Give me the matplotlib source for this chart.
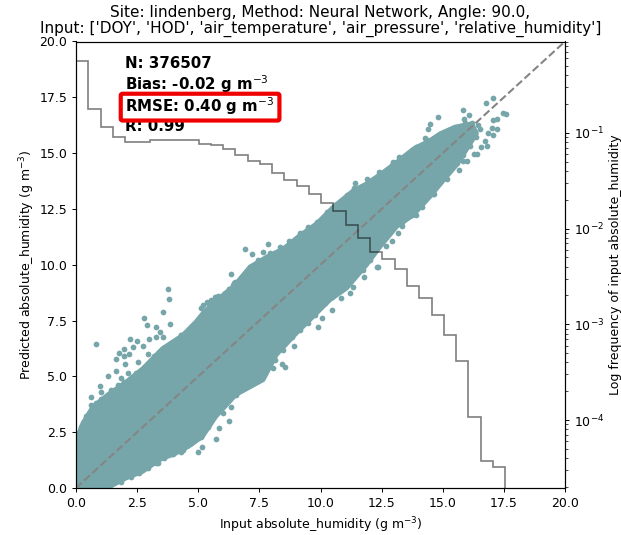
#!/usr/bin/env python3
"""Predicted vs input absolute humidity, with input frequency histogram."""

import numpy as np
import matplotlib
matplotlib.use('Agg')
import matplotlib.pyplot as plt
from matplotlib.patches import FancyBboxPatch

# outline of the solid point cloud
upper_x = [0.0, 0.0, 0.27, 0.68, 1.36, 2.05, 2.73, 3.54, 4.36, 4.9, 5.2, 5.75, 6.43, 7.11, 7.8, 8.48,
           9.16, 9.84, 10.52, 11.35, 11.89, 12.57, 13.12, 13.8, 14.48, 14.89, 15.5, 16.19, 16.39]
upper_y = [0.0, 2.15, 2.9, 3.64, 4.24, 4.76, 5.36, 6.26, 6.85, 7.45, 7.85, 8.42, 9.02, 9.91, 10.36, 10.73,
           11.33, 11.85, 12.6, 13.34, 13.64, 14.16, 14.61, 15.2, 15.58, 15.88, 16.18, 16.33, 15.88]
lower_x = [1.3, 2.04, 2.73, 3.41, 4.09, 4.6, 5.18, 5.73, 6.54, 7.66, 8.2, 9.02, 9.7, 10.39, 11.07, 11.89,
           12.44, 13.12, 13.8, 14.48, 15.16, 15.57, 16.05]
lower_y = [0.0, 0.43, 0.73, 1.25, 1.55, 1.85, 2.3, 3.2, 4.17, 4.84, 5.96, 6.93, 7.67, 8.42, 8.94, 9.99,
           10.8, 11.7, 12.22, 13.04, 13.94, 14.46, 15.28]

# single points standing off the cloud
outlier_x = [3.76, 3.79, 3.57, 2.79, 2.92, 3.86, 3.27, 3.45, 3.57, 3.27, 3.0, 2.21, 2.49, 0.80, 2.32, 1.95,
             1.77, 2.15, 1.95, 1.64, 2.52, 2.0, 1.64, 2.11, 1.32, 1.84, 0.98, 1.02, 0.61, 0.41, 3.2, 2.73,
             2.93, 5.73, 4.98, 5.15, 6.24, 5.83, 4.29, 3.93, 3.34, 1.84, 5.79, 5.18, 5.52, 6.27, 6.45, 4.7,
             4.29, 6.92, 7.84, 7.2, 7.63, 7.95, 6.34, 6.5, 6.27, 8.34, 8.72, 9.16, 9.5, 11.79, 11.2, 10.84,
             10.47, 9.91, 10.05, 8.91, 8.55, 8.07, 8.41, 12.3, 17.06, 16.77, 15.82, 16.06, 14.79, 14.48,
             14.41, 17.48, 17.58, 17.21, 17.07, 17.0, 17.21, 16.84, 17.04, 16.73, 16.57, 16.81, 16.29,
             16.42, 16.12, 16.36, 16.53, 16.46, 15.87, 15.98, 15.82, 15.65, 13.19, 12.94, 12.68, 13.32,
             13.91, 14.66, 13.23, 12.98, 12.41, 11.89, 11.41, 11.35, 14.28, 13.91, 14.37]
outlier_y = [8.90, 8.48, 7.87, 7.6, 7.3, 7.33, 7.21, 6.99, 6.78, 6.78, 6.67, 6.66, 6.57, 6.45, 6.33, 6.24,
             6.03, 6.02, 5.9, 5.76, 5.66, 5.55, 5.23, 5.17, 5.02, 4.91, 4.57, 4.32, 4.09, 3.24, 5.91, 6.36,
             6.0, 2.18, 1.63, 1.85, 3.0, 2.7, 1.63, 1.51, 1.11, 0.27, 8.61, 8.2, 8.42, 8.9, 9.2, 7.08,
             6.85, 10.72, 10.91, 10.46, 10.57, 10.54, 9.57, 9.24, 8.9, 10.81, 11.08, 11.4, 11.67, 9.47, 8.72, 8.52,
             7.97, 7.23, 7.63, 6.37, 5.43, 5.36, 5.54, 9.91, 17.46, 17.25, 16.91, 16.72, 16.64, 16.31,
             16.06, 16.78, 16.75, 16.55, 16.48, 16.13, 16.1, 15.88, 15.83, 15.55, 15.28, 15.31, 14.94,
             14.94, 15.31, 15.73, 16.06, 16.28, 16.51, 14.64, 14.64, 14.24, 11.4, 11.07, 10.85, 11.75,
             12.22, 13.16, 14.83, 14.61, 14.16, 13.82, 13.64, 13.42, 15.66, 15.28, 15.46]

# points along the rim of the cloud, they give it the bumpy edge
rim_top_x = [.07, .20, .34, .55, .61, .82, 1.02, 1.30, 1.43, 1.70, 1.98, 2.18, 2.45, 2.79, 3.07, 3.41, 3.68, 3.95,
             4.29, 4.57, 4.77, 5.04, 5.11, 5.39, 5.73, 6.07, 6.41, 5.34, 5.68, 6.09, 6.43, 6.77, 7.11, 7.46, 8.0,
             8.41, 8.75, 9.16, 9.5, 9.84, 10.25, 10.59, 10.93, 11.34, 11.07, 11.62, 11.96, 12.44, 12.91, 13.53,
             13.94, 14.34, 14.75, 15.03, 15.5, 15.91, 16.19]
rim_top_y = [2.22, 2.75, 2.97, 3.27, 3.72, 3.79, 4.0, 4.16, 4.39, 4.61, 4.76, 4.84, 5.14, 5.36, 5.58, 6.1, 6.33, 6.55,
             6.85, 7.0, 7.15, 7.45, 8.05, 8.27, 8.34, 8.49, 8.72, 8.34, 8.57, 8.72, 9.09, 9.47, 9.91, 10.2, 10.29,
             10.66, 10.96, 11.33, 11.63, 11.93, 12.37, 12.67, 12.9, 13.2, 13.12, 13.34, 13.79, 14.09, 14.46, 14.83,
             15.28, 15.58, 15.66, 15.88, 16.1, 16.33, 16.33]
rim_low_x = [1.43, 1.84, 2.25, 2.59, 2.93, 3.27, 3.61, 3.95, 4.36, 4.70, 5.11, 5.39, 5.73, 6.0, 6.34, 6.54,
             7.46, 7.73, 8.14, 8.48, 8.82, 9.16, 9.5, 9.77, 10.18, 10.46, 10.86, 11.34, 11.75, 12.02, 12.36,
             12.84, 13.32, 13.73, 14.14, 14.62, 15.16, 15.57, 15.84, 16.05, 16.32]
rim_low_y = [.18, .36, .51, .66, .88, 1.11, 1.33, 1.52, 1.70, 2.0, 2.3, 2.75, 3.35, 3.35, 3.64, 4.17,
             4.91, 5.21, 5.73, 6.18, 6.78, 7.08, 7.37, 7.75, 8.27, 8.57, 8.94, 9.02, 9.76, 10.21, 9.91,
             11.48, 11.92, 12.22, 12.6, 13.19, 13.86, 14.54, 14.91, 15.36, 15.95]

# log frequency histogram of the input
hist_freq = [0.561, 0.178, 0.116, 0.0915, 0.0805, 0.0805, 0.0839, 0.0839, 0.0851, 0.0839, 0.0773, 0.0743,
             0.0670, 0.0593, 0.0510, 0.0471, 0.0385, 0.0323, 0.0276, 0.0228, 0.0186, 0.0151, 0.0109, 0.0080,
             0.00575, 0.00482, 0.00379, 0.00252, 0.00190, 0.00125, 0.000774, 0.000418, 0.000108, 0.0000377,
             0.0000321]
hist_max = 17.55

stats = ['N: 376507', 'Bias: -0.02 g m$^{-3}$', 'RMSE: 0.40 g m$^{-3}$', 'R: 0.99']
stats_y = [19.0, 18.1, 17.1, 16.2]

point_color = '#76a6a9'

fig = plt.figure(figsize=(6.21, 5.35), dpi=100)
ax = fig.add_axes([76 / 621, 47 / 535, 489 / 621, 446.5 / 535])

# cloud outline, the thick edge rounds it off like the dots do
ax.fill(upper_x + lower_x[::-1], upper_y + lower_y[::-1], facecolor=point_color,
        edgecolor=point_color, linewidth=3, joinstyle='round', zorder=2)
ax.scatter(outlier_x, outlier_y, s=17, color=point_color, linewidths=0, zorder=2)
ax.scatter(rim_top_x + rim_low_x, rim_top_y + rim_low_y, s=17, color=point_color, linewidths=0, zorder=2)
ax.plot([0, 20], [0, 20], color='#858585', linestyle='--', linewidth=1.5, zorder=3)

ax.set_xlim(0, 20)
ax.set_ylim(0, 20)
ax.set_xlabel('Input absolute_humidity (g m$^{-3}$)', fontsize=9, labelpad=4.5)
ax.set_ylabel('Predicted absolute_humidity (g m$^{-3}$)', fontsize=9, labelpad=1.5)
ax.tick_params(labelsize=9, length=3.2, width=0.7, pad=3)
ax.set_title("Site: lindenberg, Method: Neural Network, Angle: 90.0,\n"
             "Input: ['DOY', 'HOD', 'air_temperature', 'air_pressure', 'relative_humidity']",
             fontsize=10.95, linespacing=1.1, pad=6)

for label, y in zip(stats, stats_y):
    ax.text(2.0, y, label, fontsize=10.8, fontweight='bold', va='center', zorder=6)

# red highlight round the RMSE line
ax.add_patch(FancyBboxPatch((1.85, 16.48), 6.45, 1.16, boxstyle='round,pad=0.02,rounding_size=0.08',
                            facecolor='none', edgecolor='#f00000', linewidth=3, zorder=7))

ax2 = ax.twinx()
ax2.set_yscale('log')
ax2.set_ylim(1.95e-5, 0.9)
edges = np.linspace(0, hist_max, len(hist_freq) + 1)
ax2.stairs(hist_freq, edges, baseline=1.95e-5, color='black', alpha=0.5, linewidth=1.2)
ax2.set_ylabel('Log frequency of input absolute_humidity', fontsize=9, labelpad=3.5)
ax2.tick_params(labelsize=9, pad=3)
ax2.tick_params(which='major', length=3.2, width=0.7)
ax2.tick_params(which='minor', length=1.8, width=0.5)
for spine in list(ax.spines.values()) + list(ax2.spines.values()):
    spine.set_linewidth(0.8)

plt.savefig('out.png', dpi=100)
plt.close()
